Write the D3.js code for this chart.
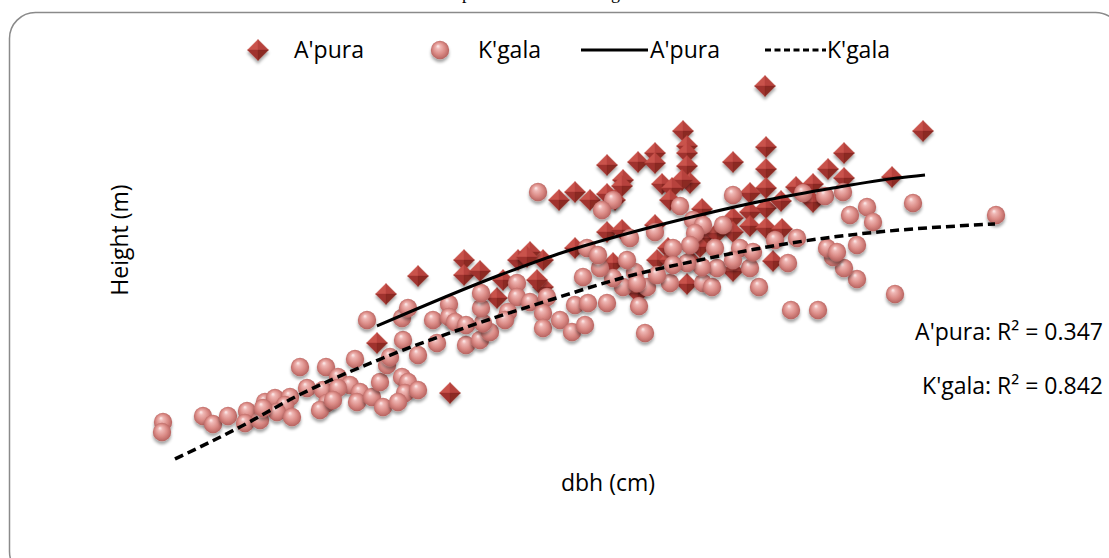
<!DOCTYPE html>
<html>
<head>
<meta charset="utf-8">
<script src="https://cdn.jsdelivr.net/npm/d3@7"></script>
<style>
  body { margin: 0; background: #fff; }
  svg { display: block; }
  text { font-family: "Open Sans", "Noto Sans", sans-serif; fill: #000; }
</style>
</head>
<body>
<div id="chartDiv"></div>
<script>

// ---- data (dbh in cm, height in m) ----
var apuraDbh = [64.5, 80.3, 56.3, 56.7, 56.7, 64.6, 48.7, 51.8, 53.5, 53.5, 61.3, 72.4, 70.8, 64.6, 56.7,
  57.0, 56.2, 50.3, 50.2, 45.5, 43.9, 47.0, 48.7, 49.5, 54.2, 55.2, 55.0, 58.2, 64.6, 64.6,
  66.1, 63.0, 67.6, 69.3, 69.3, 72.4, 77.2, 63.0, 61.3, 63.0, 61.3, 64.6, 66.2, 53.5, 48.7,
  50.2, 54.8, 57.0, 61.3, 65.3, 56.7, 51.8, 53.7, 45.5, 42.3, 41.0, 39.8, 34.4, 34.4, 36.0,
  37.7, 38.3, 40.7, 42.3, 41.7, 29.8, 26.6, 25.7, 33.0, 49.3, 55.0, 58.2, 59.7, 58.0];
var apuraHeight = [38.4, 33.9, 33.9, 32.4, 31.7, 32.3, 30.5, 30.8, 31.7, 30.7, 30.8, 31.7, 30.1, 30.1, 30.4,
  28.7, 29.0, 29.0, 28.4, 27.8, 27.0, 27.0, 27.6, 27.0, 28.6, 28.2, 27.0, 26.1, 28.2, 26.2,
  26.9, 27.7, 28.3, 28.6, 26.8, 29.2, 29.3, 25.8, 25.2, 24.4, 23.8, 24.2, 24.1, 24.5, 23.8,
  24.0, 22.2, 21.0, 19.9, 20.9, 18.6, 17.7, 21.0, 22.2, 21.0, 21.8, 21.0, 21.0, 19.5, 19.9,
  17.2, 19.0, 21.3, 18.3, 19.0, 19.4, 17.6, 12.7, 7.7, 20.7, 21.0, 23.2, 23.7, 22.3];

var kgalaDbh = [4.3, 4.2, 8.3, 9.3, 10.8, 12.7, 12.5, 14.0, 14.5, 15.5, 17.0, 16.5, 15.7, 17.2, 14.3,
  18.0, 20.6, 23.5, 18.7, 20.3, 21.8, 23.0, 21.8, 20.7, 20.0, 21.3, 24.0, 23.7, 25.2, 26.0,
  26.3, 26.7, 27.0, 28.2, 28.8, 28.5, 29.8, 27.8, 28.3, 29.8, 24.7, 28.2, 28.8, 31.3, 31.7,
  32.9, 32.9, 33.5, 34.6, 34.6, 36.0, 37.0, 36.3, 36.1, 36.1, 39.7, 39.7, 38.8, 38.5, 41.0,
  42.7, 42.3, 42.3, 44.0, 45.2, 45.5, 77.5, 69.8, 67.1, 73.7, 72.4, 66.8, 63.9, 52.5, 51.9,
  48.7, 46.8, 46.5, 55.0, 58.3, 59.2, 59.7, 58.2, 63.0, 56.7, 51.5, 52.7, 50.3, 49.3, 48.0,
  46.3, 50.7, 71.3, 41.8, 49.3, 48.2, 56.0, 61.3, 68.3, 70.5, 72.3, 79.3, 74.7, 73.0, 75.3,
  87.6, 67.7, 73.7, 70.7, 71.7, 65.5, 53.5, 51.0, 57.3, 58.3, 57.5, 57.0, 55.3, 60.3, 59.5,
  62.0, 63.3, 46.7, 47.8, 55.3, 53.7, 51.7, 61.3];
var kgalaHeight = [4.8, 3.8, 5.4, 4.6, 5.4, 5.9, 4.7, 5.0, 6.8, 7.2, 7.3, 6.5, 5.8, 5.3, 6.2,
  10.3, 10.3, 11.1, 8.2, 8.0, 9.3, 8.5, 8.2, 6.7, 6.0, 7.0, 7.8, 6.8, 7.3, 8.8,
  6.3, 10.5, 11.3, 9.3, 8.8, 7.7, 8.0, 6.8, 13.0, 11.5, 15.0, 15.2, 16.2, 15.0, 12.7,
  16.6, 15.3, 14.8, 12.5, 14.5, 13.0, 13.8, 14.7, 16.2, 17.7, 18.7, 17.3, 15.8, 15.0, 16.8,
  17.3, 15.7, 14.2, 15.0, 13.8, 16.5, 17.6, 16.0, 16.0, 19.1, 20.2, 20.7, 18.3, 13.7, 16.4,
  16.7, 16.7, 14.5, 18.7, 18.7, 18.3, 20.2, 20.3, 20.2, 20.7, 19.8, 18.3, 18.3, 19.2, 20.2,
  19.3, 21.0, 21.3, 27.8, 27.0, 26.0, 26.4, 27.5, 27.7, 27.4, 27.8, 26.7, 26.3, 25.5, 24.8,
  25.5, 23.2, 22.5, 22.2, 21.8, 23.0, 23.8, 23.2, 25.0, 24.5, 23.7, 22.5, 22.2, 24.5, 22.2,
  22.2, 21.8, 22.2, 21.5, 20.5, 19.5, 18.7, 21.0];

// trendlines as drawn in the picture
var apuraFitDbh = [25.7, 38.0, 43.8, 51.3, 58.0, 64.7, 71.3, 77.7, 80.5];
var apuraFitHeight = [14.4, 19.5, 21.6, 23.8, 25.5, 27.0, 28.2, 29.2, 29.5];
var kgalaFitDbh = [5.5, 12.0, 17.7, 26.3, 34.7, 43.0, 51.3, 58.0, 64.7, 71.3, 78.0, 87.5];
var kgalaFitHeight = [1.1, 4.3, 7.4, 11.2, 14.3, 17.0, 19.5, 21.0, 22.3, 23.3, 24.0, 24.6];

var seriesNames = ["A'pura", "K'gala"];
var r2Labels = ["A'pura: R\u00b2 = 0.347", "K'gala: R\u00b2 = 0.842"];
var xTitle = "dbh (cm)";
var yTitle = "Height (m)";


function drawChart() {

  var width = 1109;
  var height = 558;

  var svg = d3.select('#chartDiv').append('svg')
    .attr('width', width).attr('height', height);

  var defs = svg.append('defs');

  // drop shadow for markers
  var shadow = defs.append('filter').attr('id', 'shadow')
    .attr('x', '-50%').attr('y', '-50%').attr('width', '200%').attr('height', '200%');
  shadow.append('feDropShadow')
    .attr('dx', 0).attr('dy', 3).attr('stdDeviation', 1.8)
    .attr('flood-color', '#000').attr('flood-opacity', 0.35);

  // shiny ball for K'gala
  var ballGrad = defs.append('radialGradient').attr('id', 'ball')
    .attr('cx', '50%').attr('cy', '50%').attr('r', '55%')
    .attr('fx', '38%').attr('fy', '28%');
  ballGrad.selectAll('stop')
    .data([[0, '#fdf0f0'], [0.22, '#efb7b4'], [0.6, '#da8a85'], [1, '#b05c59']])
    .enter().append('stop')
    .attr('offset', function(d) { return d[0]; })
    .attr('stop-color', function(d) { return d[1]; });

  // frame
  svg.append('rect')
    .attr('x', 9.5).attr('y', 12.5)
    .attr('width', 1112).attr('height', 565)
    .attr('rx', 26).attr('ry', 26)
    .attr('fill', 'none').attr('stroke', '#8a8a8a').attr('stroke-width', 1.5);

  // bits of the caption above the frame
  svg.selectAll('text.cap')
    .data([['p', 462], ['g', 611]])
    .enter().append('text')
    .attr('class', 'cap')
    .attr('x', function(d) { return d[1]; })
    .attr('y', -1)
    .style('font-family', '"Liberation Serif", serif')
    .style('font-size', '18px')
    .text(function(d) { return d[0]; });

  var x = d3.scaleLinear().domain([0, 90]).range([120, 1020]);
  var y = d3.scaleLinear().domain([0, 40]).range([470, 70]);

  var apura = d3.zip(apuraDbh, apuraHeight);
  var kgala = d3.zip(kgalaDbh, kgalaHeight);

  // octahedron-like diamond faces
  var s = 10.5;
  var faces = [
    { p: [[0, -s], [-s, 0], [0, 0]], c: '#c9534b' },
    { p: [[0, -s], [s, 0], [0, 0]], c: '#b7433c' },
    { p: [[-s, 0], [0, s], [0, 0]], c: '#a0332e' },
    { p: [[s, 0], [0, s], [0, 0]], c: '#8b2924' }
  ];
  function diamond(sel) {
    sel.selectAll('path')
      .data(faces)
      .enter().append('path')
      .attr('d', function(f) { return 'M' + f.p.join('L') + 'Z'; })
      .attr('fill', function(f) { return f.c; })
      .attr('stroke', function(f) { return f.c; })
      .attr('stroke-width', 0.4);
  }

  svg.append('g').selectAll('g')
    .data(apura)
    .enter().append('g')
    .attr('filter', 'url(#shadow)')
    .attr('transform', function(d) { return 'translate(' + x(d[0]) + ',' + y(d[1]) + ')'; })
    .call(diamond);

  svg.append('g').selectAll('circle')
    .data(kgala)
    .enter().append('circle')
    .attr('cx', function(d) { return x(d[0]); })
    .attr('cy', function(d) { return y(d[1]); })
    .attr('r', 9.2)
    .attr('fill', 'url(#ball)')
    .attr('filter', 'url(#shadow)');

  // trendlines
  var line = d3.line()
    .x(function(d) { return x(d[0]); })
    .y(function(d) { return y(d[1]); })
    .curve(d3.curveMonotoneX);

  svg.append('path')
    .datum(d3.zip(apuraFitDbh, apuraFitHeight))
    .attr('d', line)
    .attr('fill', 'none').attr('stroke', '#000').attr('stroke-width', 3);

  svg.append('path')
    .datum(d3.zip(kgalaFitDbh, kgalaFitHeight))
    .attr('d', line)
    .attr('fill', 'none').attr('stroke', '#000').attr('stroke-width', 3.5)
    .attr('stroke-dasharray', '9,5');

  // axis titles
  svg.append('text')
    .attr('x', 608).attr('y', 491)
    .attr('text-anchor', 'middle')
    .style('font-size', '23px')
    .text(xTitle);

  svg.append('text')
    .attr('transform', 'translate(128,240) rotate(-90)')
    .attr('text-anchor', 'middle')
    .style('font-size', '23px')
    .text(yTitle);

  // R² labels
  svg.selectAll('text.r2')
    .data(r2Labels)
    .enter().append('text')
    .attr('class', 'r2')
    .attr('x', 1103)
    .attr('y', function(d, i) { return 340 + i * 54; })
    .attr('text-anchor', 'end')
    .style('font-size', '23px')
    .text(function(d) { return d; });

  // legend
  var leg = svg.append('g');
  leg.append('g')
    .attr('transform', 'translate(258,50)')
    .attr('filter', 'url(#shadow)')
    .call(diamond);
  leg.append('circle')
    .attr('cx', 440).attr('cy', 50).attr('r', 9.2)
    .attr('fill', 'url(#ball)').attr('filter', 'url(#shadow)');
  leg.append('line')
    .attr('x1', 581).attr('x2', 648).attr('y1', 50).attr('y2', 50)
    .attr('stroke', '#000').attr('stroke-width', 3);
  leg.append('line')
    .attr('x1', 765).attr('x2', 826).attr('y1', 50).attr('y2', 50)
    .attr('stroke', '#000').attr('stroke-width', 3)
    .attr('stroke-dasharray', '6,3.5');

  var legText = [[seriesNames[0], 294], [seriesNames[1], 478], [seriesNames[0], 650], [seriesNames[1], 827]];
  leg.selectAll('text')
    .data(legText)
    .enter().append('text')
    .attr('x', function(d) { return d[1]; })
    .attr('y', 58)
    .style('font-size', '23px')
    .text(function(d) { return d[0]; });
}

drawChart();
</script>
</body>
</html>
